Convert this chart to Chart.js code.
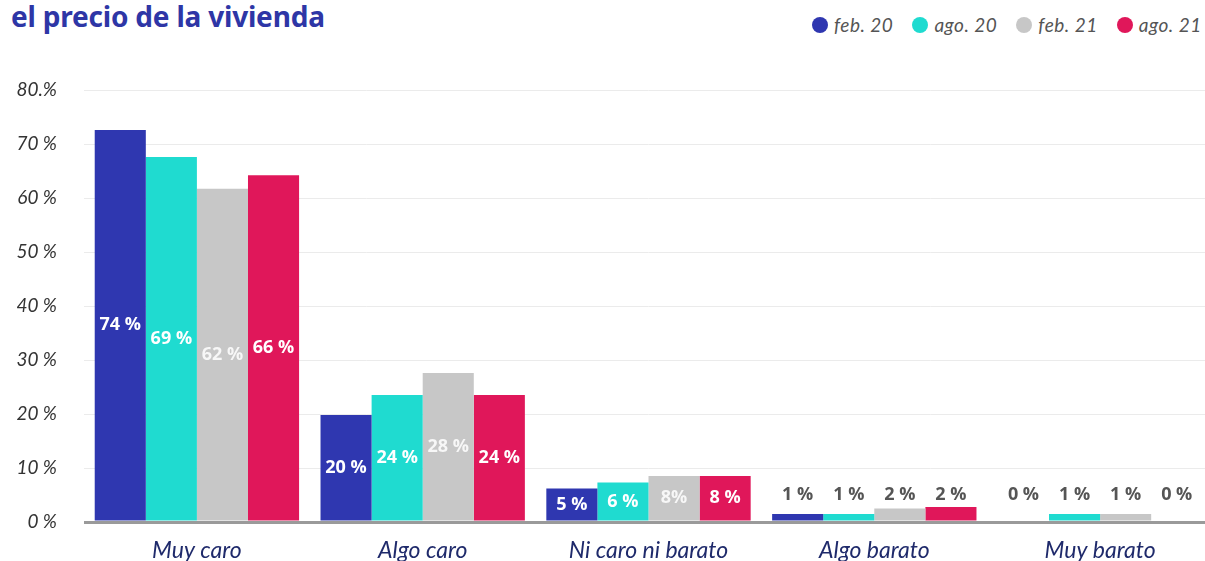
<!DOCTYPE html>
<html>
<head>
<meta charset="utf-8">
<script src="https://cdn.jsdelivr.net/npm/chart.js@4.4.1/dist/chart.umd.min.js"></script>
<style>
    html, body { margin: 0; padding: 0; background: #fff; overflow: hidden; }
    .wrap { position: relative; width: 1213px; height: 561px; }
    .title {
        position: absolute; left: 11px; top: -3px;
        font: bold 28px "Noto Sans", sans-serif; color: #2e36a6; letter-spacing: -0.2px;
    }
    .legend {
        position: absolute; top: 13px; left: 812px; width: 600px;
        display: flex; align-items: center; white-space: nowrap;
        font: italic 19px Lato, sans-serif; color: #555; letter-spacing: 0.5px;
    }
    .legend span.item { display: flex; align-items: center; margin-right: 19px; flex-shrink: 0; }
    .legend span.dot { width: 16px; height: 16px; border-radius: 50%; margin-right: 6px; display: inline-block; }
    canvas { position: absolute; left: 0; top: 0; }
</style>
</head>
<body>
<div class="wrap">
    <div class="title">el precio de la vivienda</div>
    <div class="legend" id="legend"></div>
    <canvas id="chart" width="1213" height="561"></canvas>
</div>
<script>
// Categories and series (bar heights, labels as printed)
const categories = ['Muy caro', 'Algo caro', 'Ni caro ni barato', 'Algo barato', 'Muy barato'];
const seriesNames = ['feb. 20', 'ago. 20', 'feb. 21', 'ago. 21'];
const seriesColors = ['#2f37b0', '#1fdbd0', '#c7c7c7', '#e0175a'];

const feb20 = [72.6, 19.8, 6.2, 1.5, 0];
const ago20 = [67.6, 23.5, 7.3, 1.5, 1.5];
const feb21 = [61.7, 27.6, 8.5, 2.5, 1.5];
const ago21 = [64.2, 23.5, 8.5, 2.8, 0];

const feb20Labels = ['74 %', '20 %', '5 %', '1 %', '0 %'];
const ago20Labels = ['69 %', '24 %', '6 %', '1 %', '1 %'];
const feb21Labels = ['62 %', '28 %', '8%', '2 %', '1 %'];
const ago21Labels = ['66 %', '24 %', '8 %', '2 %', '0 %'];

const yTicks = [0, 10, 20, 30, 40, 50, 60, 70, 80];

const seriesValues = [feb20, ago20, feb21, ago21];
const seriesLabels = [feb20Labels, ago20Labels, feb21Labels, ago21Labels];

// HTML legend
const legendEl = document.getElementById('legend');
seriesNames.forEach((name, i) => {
    legendEl.innerHTML += `<span class="item"><span class="dot" style="background:${seriesColors[i]}"></span>${name}</span>`;
});

// Value labels: white inside tall bars, grey above the small ones
const valueLabels = {
    id: 'valueLabels',
    afterDatasetsDraw(chart) {
        const ctx = chart.ctx;
        const y = chart.scales.y;
        ctx.save();
        ctx.textAlign = 'center';
        ctx.textBaseline = 'middle';
        chart.data.datasets.forEach((ds, d) => {
            const meta = chart.getDatasetMeta(d);
            meta.data.forEach((bar, i) => {
                const v = ds.data[i];
                const text = seriesLabels[d][i];
                ctx.font = 'bold 18px "Open Sans", sans-serif';
                if (v >= 4) {
                    ctx.fillStyle = d === 2 ? 'rgba(255,255,255,0.85)' : '#ffffff';
                    ctx.fillText(text, bar.x, (bar.y + bar.base) / 2);
                } else {
                    ctx.fillStyle = '#555555';
                    ctx.fillText(text, bar.x, y.getPixelForValue(5.0));
                }
            });
        });
        ctx.restore();
    }
};

new Chart(document.getElementById('chart'), {
    type: 'bar',
    data: {
        labels: categories,
        datasets: seriesValues.map((vals, i) => ({
            label: seriesNames[i],
            data: vals,
            backgroundColor: seriesColors[i],
            borderWidth: 0,
            categoryPercentage: 0.905,
            barPercentage: 1
        }))
    },
    options: {
        responsive: false,
        animation: false,
        layout: { padding: { top: 90, right: 0, left: 0, bottom: 0 } },
        plugins: {
            legend: { display: false },
            tooltip: { enabled: false }
        },
        scales: {
            x: {
                grid: { display: false },
                border: { display: false },
                afterFit: (scale) => { scale.height = 39; },
                ticks: {
                    color: '#1f2a6b',
                    font: { family: 'Lato', style: 'italic', size: 23 },
                    padding: 7,
                    maxRotation: 0
                }
            },
            y: {
                min: 0,
                max: 80,
                afterFit: (scale) => { scale.width = 84; },
                afterBuildTicks: (scale) => { scale.ticks = yTicks.map(v => ({ value: v })); },
                border: { display: false },
                grid: {
                    drawTicks: false,
                    color: (c) => c.tick && c.tick.value === 0 ? '#9a9a9a' : '#ebebeb',
                    lineWidth: (c) => c.tick && c.tick.value === 0 ? 3 : 1
                },
                ticks: {
                    color: '#333',
                    padding: 27,
                    font: { family: 'Lato', style: 'italic', size: 19 },
                    callback: (v) => v === 80 ? '80.%' : v + ' %'
                }
            }
        }
    },
    plugins: [valueLabels]
});
</script>
</body>
</html>
